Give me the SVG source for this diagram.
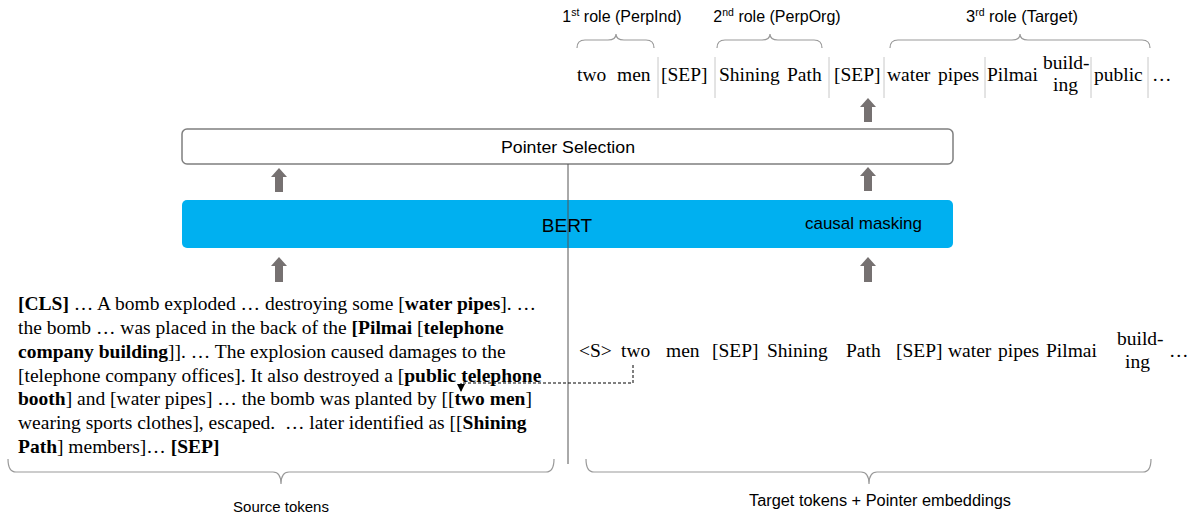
<svg xmlns="http://www.w3.org/2000/svg" width="1187" height="516" viewBox="0 0 1187 516">
<style>
.sans{font-family:"Liberation Sans",Arial,sans-serif;fill:#000}
.serif{font-family:"Liberation Serif","Times New Roman",serif;fill:#000;font-size:19.5px}
.src{font-family:"Liberation Serif","Times New Roman",serif;fill:#000;font-size:19.5px}
.b{font-weight:bold}
.sep{stroke:#c8c8c8;stroke-width:1}
.brace{fill:none;stroke:#999;stroke-width:1.2}
.arr{fill:#767171}
</style>
<defs>
<marker id="ah" markerWidth="8" markerHeight="8" refX="8" refY="4" orient="auto" markerUnits="userSpaceOnUse">
<path d="M0,0 L8,4 L0,8 Z" fill="#000"/>
</marker>
</defs>
<rect width="1187" height="516" fill="#fff"/>

<g id="roles">
<text class="sans" x="622" y="22" font-size="16" text-anchor="middle">1<tspan font-size="10.5" dy="-6">st</tspan><tspan dy="6"> role (PerpInd)</tspan></text>
<text class="sans" x="777" y="22" font-size="16" text-anchor="middle">2<tspan font-size="10.5" dy="-6">nd</tspan><tspan dy="6"> role (PerpOrg)</tspan></text>
<text class="sans" x="1022" y="22" font-size="16.5" text-anchor="middle">3<tspan font-size="10.5" dy="-6">rd</tspan><tspan dy="6"> role (Target)</tspan></text>
<path class="brace" d="M577,48 Q577,40 585,40 L608,40 Q616,40 616,34 Q616,40 624,40 L646,40 Q654,40 654,48"/>
<path class="brace" d="M717,48 Q717,40 725,40 L762,40 Q770,40 770,34 Q770,40 778,40 L814,40 Q822,40 822,48"/>
<path class="brace" d="M890,48 Q890,40 898,40 L1012,40 Q1020,40 1020,34 Q1020,40 1028,40 L1142,40 Q1150,40 1150,48"/>
</g>

<g id="output-tokens">
<line class="sep" x1="658" y1="57" x2="658" y2="98"/>
<line class="sep" x1="715" y1="57" x2="715" y2="98"/>
<line class="sep" x1="829" y1="57" x2="829" y2="98"/>
<line class="sep" x1="884" y1="57" x2="884" y2="98"/>
<line class="sep" x1="985" y1="57" x2="985" y2="98"/>
<line class="sep" x1="1091" y1="57" x2="1091" y2="98"/>
<line class="sep" x1="1148" y1="57" x2="1148" y2="98"/>
<text class="serif" y="81"><tspan x="577">two</tspan><tspan x="617">men</tspan><tspan x="661">[SEP]</tspan><tspan x="719">Shining</tspan><tspan x="787">Path</tspan><tspan x="834">[SEP]</tspan><tspan x="887">water</tspan><tspan x="938">pipes</tspan><tspan x="987">Pilmai</tspan><tspan x="1094">public</tspan><tspan x="1152">…</tspan></text>
<text class="serif" x="1043" y="69">build-</text>
<text class="serif" x="1053" y="91">ing</text>
</g>

<g id="pointer-selection">
<rect x="182" y="129" width="771" height="35" rx="5" fill="#fff" stroke="#7f7f7f" stroke-width="1.5"/>
<text class="sans" x="568" y="153" font-size="17" text-anchor="middle" textLength="134" lengthAdjust="spacingAndGlyphs">Pointer Selection</text>
</g>

<g id="bert">
<rect x="182" y="200" width="771" height="48" rx="5" fill="#00b0f0"/>
<text class="sans" x="567" y="232" font-size="19" text-anchor="middle">BERT</text>
<text class="sans" x="805" y="229" font-size="17" textLength="117" lengthAdjust="spacingAndGlyphs">causal masking</text>
</g>

<g id="connectors">
<polygon class="arr" points="868,98 876,107 872,107 872,122 864,122 864,107 860,107"/>
<polygon class="arr" points="868,167 876,176 872,176 872,191 864,191 864,176 860,176"/>
<polygon class="arr" points="868,257 876,266 872,266 872,282 864,282 864,266 860,266"/>
<polygon class="arr" points="279,168 287,177 283,177 283,192 275,192 275,177 271,177"/>
<polygon class="arr" points="279,257 287,266 283,266 283,282 275,282 275,266 271,266"/>
<line x1="568" y1="164" x2="568" y2="464" stroke="#555" stroke-width="1"/>
<path d="M633,365 L633,383 L461,383 L461,392" fill="none" stroke="#000" stroke-width="1" stroke-dasharray="3,2" marker-end="url(#ah)"/>
</g>

<g id="source-tokens">
<text class="src" x="18" y="310"><tspan class="b">[CLS]</tspan> … A bomb exploded … destroying some [<tspan class="b">water pipes</tspan>]. …</text>
<text class="src" x="18" y="334">the bomb … was placed in the back of the <tspan class="b">[Pilmai</tspan> [<tspan class="b">telephone</tspan></text>
<text class="src" x="18" y="358"><tspan class="b">company building</tspan>]]. … The explosion caused damages to the</text>
<text class="src" x="18" y="382">[telephone company offices]. It also destroyed a [<tspan class="b">public telephone</tspan></text>
<text class="src" x="18" y="405"><tspan class="b">booth</tspan>] and [water pipes] … the bomb was planted by [[<tspan class="b">two men</tspan>]</text>
<text class="src" x="18" y="429">wearing sports clothes], escaped.&#160; … later identified as [[<tspan class="b">Shining</tspan></text>
<text class="src" x="18" y="453"><tspan class="b">Path</tspan>] members]… <tspan class="b">[SEP]</tspan></text>
<path class="brace" d="M8,459 Q8,472 16,472 L273,472 Q281,472 281,484 Q281,472 289,472 L546,472 Q554,472 554,459"/>
<text class="sans" x="281" y="512" font-size="15" text-anchor="middle">Source tokens</text>
</g>

<g id="target-tokens">
<text class="serif" y="357"><tspan x="579">&lt;S&gt;</tspan><tspan x="621">two</tspan><tspan x="666">men</tspan><tspan x="712">[SEP]</tspan><tspan x="767">Shining</tspan><tspan x="846">Path</tspan><tspan x="896">[SEP]</tspan><tspan x="948">water</tspan><tspan x="998">pipes</tspan><tspan x="1046">Pilmai</tspan><tspan x="1169">…</tspan></text>
<text class="serif" x="1117" y="345">build-</text>
<text class="serif" x="1125" y="368">ing</text>
<path class="brace" d="M586,459 Q586,472 594,472 L861,472 Q869,472 869,484 Q869,472 877,472 L1143,472 Q1151,472 1151,459"/>
<text class="sans" x="880" y="506" font-size="16" text-anchor="middle" textLength="262" lengthAdjust="spacingAndGlyphs">Target tokens + Pointer embeddings</text>
</g>
</svg>
